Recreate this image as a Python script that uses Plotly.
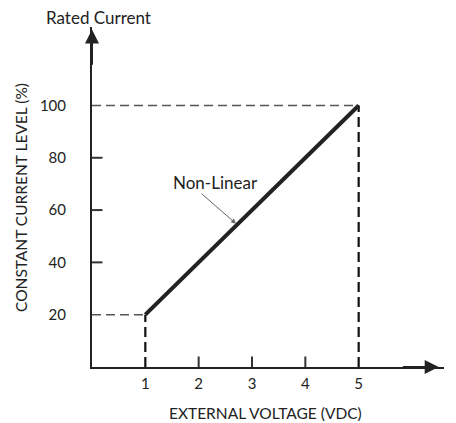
import plotly.graph_objects as go

# Data
voltage = [1, 5]
current = [20, 100]
x_ticks = [1, 2, 3, 4, 5]
y_ticks = [20, 40, 60, 80, 100]
x_minor = [2, 3, 4]
y_minor = [40, 60, 80]
label_text_pos = (2.32, 70.5)
label_arrow_tail = (2.03, 66.7)
label_arrow_head = (2.70, 54.8)

FONT = "Lato"
TXT = "#222"
XMAX, YMAX = 6.6, 130
fig = go.Figure()

# dashed guide lines
fig.add_trace(go.Scatter(x=[0, voltage[1]], y=[current[1], current[1]], mode="lines",
                         line=dict(color="#555", width=1.5, dash="9px,5px"), hoverinfo="skip"))
fig.add_trace(go.Scatter(x=[0, voltage[0]], y=[current[0], current[0]], mode="lines",
                         line=dict(color="#555", width=1.5, dash="9px,5px"), hoverinfo="skip"))
fig.add_trace(go.Scatter(x=[voltage[1], voltage[1]], y=[0, current[1]], mode="lines",
                         line=dict(color="#111", width=2.2, dash="10px,5px"), hoverinfo="skip"))
fig.add_trace(go.Scatter(x=[voltage[0], voltage[0]], y=[0, current[0]], mode="lines",
                         line=dict(color="#111", width=2.2, dash="10px,5px"), hoverinfo="skip"))
# main line
fig.add_trace(go.Scatter(x=voltage, y=current, mode="lines",
                         line=dict(color="#222", width=4), hoverinfo="skip"))

# inner tick marks: line markers centred on the axis, the outer half clipped by the plot area
fig.add_trace(go.Scatter(x=x_minor, y=[0] * len(x_minor), mode="markers", cliponaxis=True,
                         marker=dict(symbol="line-ns-open", size=15, color="#333",
                                     line=dict(color="#333", width=2)), hoverinfo="skip"))
fig.add_trace(go.Scatter(x=[0] * len(y_minor), y=y_minor, mode="markers", cliponaxis=True,
                         marker=dict(symbol="line-ew-open", size=15, color="#333",
                                     line=dict(color="#333", width=2)), hoverinfo="skip"))

fig.update_xaxes(range=[0, XMAX], showgrid=False, zeroline=False,
                 showline=True, linecolor="#222", linewidth=2,
                 tickmode="array", tickvals=x_ticks, ticktext=[str(v) for v in x_ticks],
                 ticks="outside", ticklen=2, tickcolor="rgba(0,0,0,0)",
                 tickfont=dict(family=FONT, size=15, color=TXT))
fig.update_yaxes(range=[0, YMAX], showgrid=False, zeroline=False,
                 showline=True, linecolor="#222", linewidth=2,
                 tickmode="array", tickvals=y_ticks, ticktext=[str(v) for v in y_ticks],
                 ticks="outside", ticklen=21, tickcolor="rgba(0,0,0,0)",
                 tickfont=dict(family=FONT, size=15, color=TXT))

# axes arrow heads
fig.add_annotation(x=6.5, y=0, ax=5.8, ay=0, xref="x", yref="y", axref="x", ayref="y",
                   showarrow=True, arrowhead=2, arrowsize=1.4, arrowwidth=2, arrowcolor="#222", text="")
fig.add_annotation(x=0, y=129, ax=0, ay=115, xref="x", yref="y", axref="x", ayref="y",
                   showarrow=True, arrowhead=2, arrowsize=1.4, arrowwidth=2, arrowcolor="#222", text="")

# label with pointer
fig.add_annotation(x=label_arrow_head[0], y=label_arrow_head[1],
                   ax=label_arrow_tail[0], ay=label_arrow_tail[1],
                   xref="x", yref="y", axref="x", ayref="y", text="", showarrow=True,
                   arrowhead=2, arrowsize=1, arrowwidth=1, arrowcolor="#666")
fig.add_annotation(x=label_text_pos[0], y=label_text_pos[1], xref="x", yref="y",
                   xanchor="center", yanchor="middle",
                   text="Non-Linear", showarrow=False,
                   font=dict(family=FONT, size=17, color=TXT))

# titles, positioned by pixel offsets from the plot edges
fig.add_annotation(x=0, y=1, xref="paper", yref="paper", xanchor="center", yanchor="middle",
                   xshift=6, yshift=10, text="Rated Current", showarrow=False,
                   font=dict(family=FONT, size=17, color=TXT))
fig.add_annotation(x=0, y=0.5, xref="paper", yref="paper", xanchor="center", yanchor="middle",
                   xshift=-71, yshift=-1, textangle=-90,
                   text="CONSTANT CURRENT LEVEL (%)", showarrow=False,
                   font=dict(family=FONT, size=15.5, color=TXT))
fig.add_annotation(x=0.4924, y=0, xref="paper", yref="paper", xanchor="center", yanchor="middle",
                   yshift=-46, text="EXTERNAL VOLTAGE (VDC)", showarrow=False,
                   font=dict(family=FONT, size=15.5, color=TXT))
fig.add_annotation(x=1, y=0, xref="paper", yref="paper", xanchor="left", yanchor="middle",
                   xshift=3, yshift=4, text="V", showarrow=False,
                   font=dict(family=FONT, size=16, color=TXT))

fig.update_layout(width=448, height=415, margin=dict(l=84, r=12, t=19, b=56),
                  plot_bgcolor="white", paper_bgcolor="white", showlegend=False)

fig.write_html("out.html")
